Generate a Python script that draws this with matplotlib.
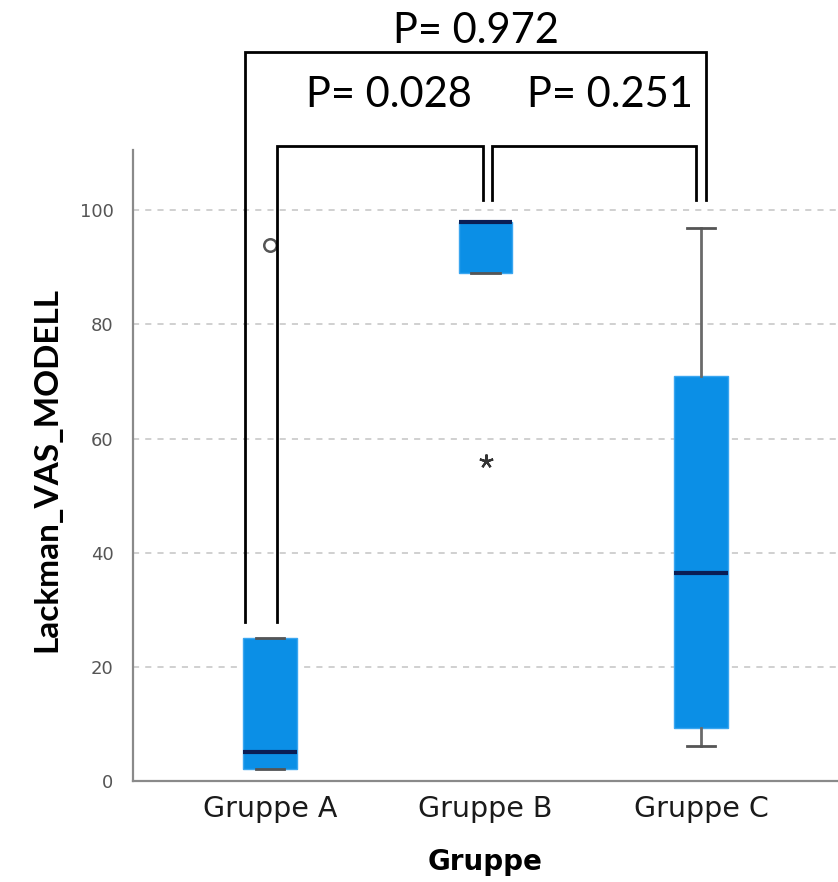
import matplotlib
matplotlib.use("Agg")
import matplotlib.pyplot as plt

# ---- data ----
groups = ["Gruppe A", "Gruppe B", "Gruppe C"]
q1 = [2.0, 89.0, 9.2]
median = [5.0, 98.0, 36.5]
q3 = [25.0, 98.0, 71.0]
whisker_low = [2.0, 89.0, 6.0]
whisker_high = [25.0, 98.0, 97.0]
outlier_group = [1]          # index of group with mild outlier (circle)
outlier_value = [94.0]
extreme_group = [2]          # index of group with extreme outlier (star)
extreme_value = [56.0]
p_labels = ["P= 0.028", "P= 0.251", "P= 0.972"]
y_ticks = [0, 20, 40, 60, 80, 100]
y_label = "Lackman_VAS_MODELL"
x_label = "Gruppe"

fig = plt.figure(figsize=(8.38, 8.82), dpi=100)
ax = fig.add_axes([133/838, 101.3/882, 705/838, 630.7/882])

stats = []
for i, g in enumerate(groups):
    stats.append(dict(label=g, q1=q1[i], med=median[i], q3=q3[i],
                      whislo=whisker_low[i], whishi=whisker_high[i], fliers=[]))

pos = [1, 2, 3]
ax.bxp(stats, positions=pos, widths=0.25, patch_artist=True, showfliers=False,
       boxprops=dict(facecolor="#0b8fe6", edgecolor="#3aa6f0", linewidth=1.0),
       medianprops=dict(color="#0a1e55", linewidth=3.0, solid_capstyle="butt"),
       whiskerprops=dict(color="#6a6a6a", linewidth=2.0),
       capprops=dict(color="#555555", linewidth=2.0),
       capwidths=0.13, zorder=3)

ax.plot(outlier_group, outlier_value, linestyle="none", marker="o", markersize=9,
        markerfacecolor="none", markeredgecolor="#555555", markeredgewidth=1.8, zorder=4)
ax.plot(extreme_group, extreme_value, linestyle="none", marker=(5, 2, 0), markersize=10,
        markeredgecolor="#333333", markeredgewidth=1.6, zorder=4)

ax.set_xlim(0.364, 3.636)
ax.set_ylim(0, 110.6)
ax.set_yticks(y_ticks)
ax.set_xticks(pos)
ax.set_xticklabels(groups, fontsize=20.5, family="DejaVu Sans", color="#1a1a1a")
ax.tick_params(axis="y", length=0, pad=14, labelsize=13, labelcolor="#555555")
ax.tick_params(axis="x", length=0, pad=10)
for v in y_ticks[1:]:
    ax.axhline(v, color="#c4c4c4", linewidth=1.1, linestyle=(0, (4, 4)), zorder=1)

for s in ["top", "right"]:
    ax.spines[s].set_visible(False)
for s in ["left", "bottom"]:
    ax.spines[s].set_color("#8a8a8a")
    ax.spines[s].set_linewidth(1.6)

ax.set_ylabel(y_label, fontsize=24, fontweight="bold", family="Lato", va="center")
ax.yaxis.set_label_coords(-0.122, 0.493)
ax.set_xlabel(x_label, fontsize=20, fontweight="bold", family="DejaVu Sans", va="center")
ax.xaxis.set_label_coords(0.499, -0.129)

# ---- significance brackets (layout) ----
lw = 2.0
def bracket(x0, x1, y0l, y0r, ytop):
    ax.plot([x0, x0, x1, x1], [y0l, ytop, ytop, y0r], color="black",
            linewidth=lw, clip_on=False, solid_joinstyle="miter", zorder=5)

bracket(1.0325, 1.988, 27.8, 101.9, 111.35)
bracket(2.030, 2.977, 101.9, 101.9, 111.35)
bracket(0.882, 3.0255, 27.8, 101.9, 127.7)

ax.text(1.55, 118.2, p_labels[0], ha="center", va="baseline", fontsize=30,
        family="Lato", clip_on=False)
ax.text(2.578, 118.2, p_labels[1], ha="center", va="baseline", fontsize=30,
        family="Lato", clip_on=False)
ax.text(1.954, 129.4, p_labels[2], ha="center", va="baseline", fontsize=30,
        family="Lato", clip_on=False)

fig.savefig("out.png", dpi=100)
